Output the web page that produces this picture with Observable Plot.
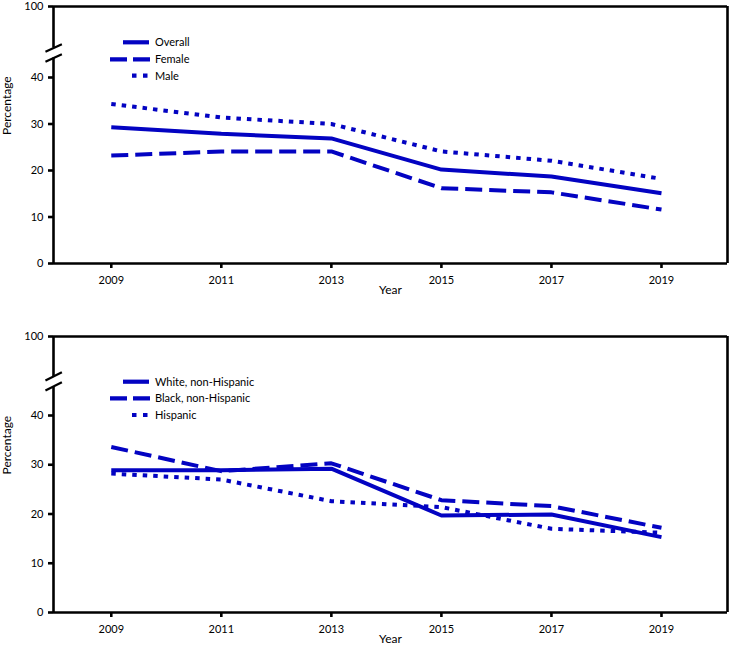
<!DOCTYPE html>
<html><head><meta charset="utf-8">
<script src="https://cdn.jsdelivr.net/npm/d3@7"></script>
<script src="https://cdn.jsdelivr.net/npm/@observablehq/plot@0.6"></script>
<style>
body{margin:0;background:#fff;}
#chart{width:731px;}
#chart svg{display:block;}
</style></head><body><div id="chart"></div>
<script>
// ---- data ----
const years = [2009, 2011, 2013, 2015, 2017, 2019];
const overall = [29.3, 27.9, 26.9, 20.2, 18.7, 15.1];
const female = [23.2, 24.1, 24.1, 16.2, 15.3, 11.6];
const male = [34.3, 31.4, 30.0, 24.1, 22.1, 18.2];
const white = [28.9, 28.9, 29.2, 19.7, 19.9, 15.3];
const black = [33.6, 28.7, 30.3, 22.8, 21.6, 17.2];
const hispanic = [28.2, 27.0, 22.6, 21.4, 17.0, 16.2];
const yTicks = [0, 10, 20, 30, 40, 100];
const xTicks = [2009, 2011, 2013, 2015, 2017, 2019];
const topLabels = ["Overall", "Female", "Male"];
const bottomLabels = ["White, non-Hispanic", "Black, non-Hispanic", "Hispanic"];

// ---- styles ----
const BLUE = "#0303c2";
const FONT = "Lato, 'Open Sans', sans-serif";
const styles = [
  {dash: null},
  {dash: "17,7"},
  {dash: "4.5,6"}
];
const xDomain = [2007.95, 2020.2];

function panel(cfg) {
  const {height, mt, mb, y40px, seriesList, labels, gap, slashes, legendY} = cfg;
  const x0 = xDomain[0], x1 = xDomain[1];
  const bottomPx = height - mb;
  const marks = [
    Plot.ruleY([100], {stroke: "#000", strokeWidth: 2.6}),
    Plot.ruleY([0], {stroke: "#000", strokeWidth: 2.6}),
    Plot.ruleX([x1], {stroke: "#000", strokeWidth: 2.6}),
    Plot.ruleX([[0, gap[0]], [gap[1], 100]], {x: () => x0, y1: d => d[0], y2: d => d[1], stroke: "#000", strokeWidth: 2.6}),
    Plot.link(slashes, {x1: () => x0 - 0.146, x2: () => x0 + 0.152, y1: d => d[0], y2: d => d[1], stroke: "#000", strokeWidth: 2.2}),
    Plot.axisY({ticks: yTicks, tickSize: 5, tickPadding: 5, strokeWidth: 2.6, label: null, fontSize: 11}),
    Plot.axisX({ticks: xTicks, tickFormat: d => String(d), tickSize: 5, tickPadding: 8, strokeWidth: 2.6, label: null, fontSize: 11}),
    Plot.text(["Percentage"], {frameAnchor: "left", rotate: -90, dx: -46, fontSize: 12, fill: "#000"}),
    Plot.text(["Year"], {frameAnchor: "bottom", dy: 30, fontSize: 12, fill: "#000"})
  ];
  seriesList.forEach((vals, i) => {
    const data = years.map((yr, j) => ({year: yr, value: vals[j]}));
    marks.push(Plot.line(data, {
      x: "year", y: "value", stroke: BLUE, strokeWidth: 4,
      strokeDasharray: styles[i].dash, strokeLinecap: "butt", strokeLinejoin: "miter"
    }));
  });
  const svg = Plot.plot({
    width: 731, height,
    marginLeft: 53, marginRight: 4, marginTop: mt, marginBottom: mb,
    style: {fontFamily: FONT, fontSize: "11px", color: "#000", background: "#fff"},
    x: {domain: xDomain, range: [53, 727]},
    y: {type: "linear", domain: [0, 40, 100], range: [bottomPx, y40px, mt]},
    marks
  });
  // legend
  const g = d3.select(svg).append("g")
    .attr("font-family", FONT).attr("font-size", 11).attr("text-anchor", "start");
  const legendLines = [[123, 149], [110, 150], [132, 147.5]];
  labels.forEach((lab, i) => {
    const yy = legendY[i];
    g.append("line").attr("x1", legendLines[i][0]).attr("x2", legendLines[i][1])
      .attr("y1", yy).attr("y2", yy).attr("stroke", BLUE).attr("stroke-width", 4.2)
      .attr("stroke-dasharray", i === 1 ? "17,6" : i === 2 ? "4.5,6.5" : null);
    g.append("text").attr("x", 155).attr("y", yy).attr("dy", "0.35em")
      .attr("text-anchor", "start").attr("fill", "#000").text(lab);
  });
  return svg;
}

const chart = document.getElementById("chart");
chart.appendChild(panel({
  height: 318, mt: 6, mb: 55, y40px: 77,
  seriesList: [overall, female, male], labels: topLabels,
  gap: [56.5, 64.9], slashes: [[61.8, 68.0], [53.4, 59.6]],
  legendY: [42.3, 59.3, 75.7]
}));
chart.appendChild(panel({
  height: 335, mt: 18, mb: 41, y40px: 97,
  seriesList: [white, black, hispanic], labels: bottomLabels,
  gap: [62.0, 68.9], slashes: [[66.6, 72.9], [59.0, 65.3]],
  legendY: [63.7, 80.3, 97]
}));
</script>
</body></html>
